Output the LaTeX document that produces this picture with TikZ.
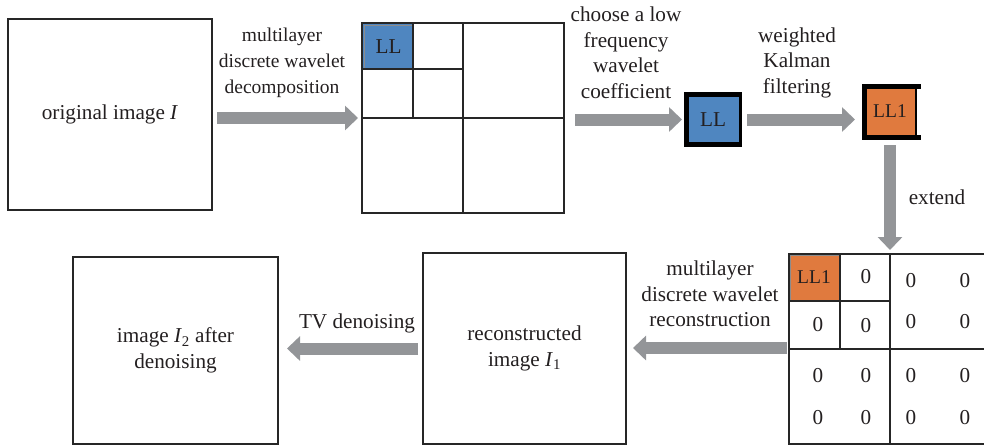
\documentclass[tikz,border=0pt]{standalone}
\usepackage{fontspec}
\setmainfont{Liberation Serif}
\usetikzlibrary{arrows.meta}
\definecolor{llblue}{HTML}{4F86C0}
\definecolor{llorange}{HTML}{E07A3E}
\definecolor{arrgray}{HTML}{939598}
\definecolor{txt}{HTML}{231F20}
\begin{document}
\begin{tikzpicture}[x=1pt,y=-1pt,
  every node/.style={font=\fontsize{21.2}{25.5}\selectfont, inner sep=0pt, outer sep=0pt, text=txt},
  frame/.style={draw=black!85, line width=1.2pt, align=center},
  gridline/.style={draw=black!85, line width=1.2pt},
  fat/.style={draw=arrgray, line width=12pt, -{Triangle[length=13pt,width=24pt]}},
  lbl/.style={align=center},
  small/.style={font=\fontsize{19.5}{26}\selectfont},
]
\useasboundingbox (0,0) rectangle (984,445);
\clip (0,0) rectangle (984,445);

% original image
\node[frame, minimum width=204pt, minimum height=191pt] (orig) at (110,114.5) {original image \textit{I}};

% decomposition grid
\fill[llblue] (363,24) rectangle (413,69);
\draw[black!45, line width=0.8pt] (364,25) rectangle (413,69);
\node[frame, minimum width=202pt, minimum height=190pt] (dec) at (463,118) {};
\draw[gridline] (dec.north) -- (dec.south);
\draw[gridline] (dec.west) -- (dec.east);
\draw[gridline] (413,23) -- (413,118);
\draw[gridline] (362,69) -- (463,69);
\node (ll0) at (388.5,47) {LL};

% LL box
\node[minimum width=58pt, minimum height=55pt] (llb) at (713,119.5) {};
\fill[black] (684,92) rectangle (742,147);
\fill[llblue] (689,97) rectangle (739,142);
\node at (llb.center) {LL};

% LL1 box
\node[minimum width=59pt, minimum height=56pt] (ll1) at (891.5,112) {};
\fill[black] (862,84) rectangle (921,89);
\fill[black] (862,135) rectangle (921,140);
\fill[black] (862,84) rectangle (867,140);
\fill[black] (914.5,84) rectangle (916.5,140);
\fill[llorange] (867,89) rectangle (914.5,135);
\node[small] at (890,111) {LL1};

% extended grid
\fill[llorange] (790,255) rectangle (840,301);
\draw[black!45, line width=0.8pt] (790,255) rectangle (840,301);
\node[frame, minimum width=202pt, minimum height=190pt] (ext) at (890,349) {};
\draw[gridline] (ext.north) -- (ext.south);
\draw[gridline] (ext.west) -- (ext.east);
\draw[gridline] (840,254) -- (840,349);
\draw[gridline] (789,301) -- (890,301);
\node[small] at (814,277) {LL1};
\foreach \x/\y in {866/277, 911/281, 965/281, 818/325, 866/326, 911/322, 965/322,
  818/376, 866/376, 911/376, 965/376, 818/418, 866/418, 911/418, 965/418}
  \node at (\x,\y) {0};

% reconstructed
\node[frame, minimum width=203pt, minimum height=191pt] (recon) at (524.5,348.5) {reconstructed\\image \textit{I}\textsubscript{1}};

% output
\node[frame, minimum width=205pt, minimum height=187pt] (out) at (175.5,350.5) {image \textit{I}\textsubscript{2} after\\denoising};

% arrows
\draw[fat] ([xshift=5pt]orig.east |- dec.west) -- ([xshift=-4pt]dec.west);
\draw[fat] ([xshift=11pt]dec.east |- llb.west) -- ([xshift=-2pt]llb.west);
\draw[fat] ([xshift=5pt]llb.east) -- ([xshift=-7pt]ll1.west |- llb.east);
\draw[fat] ([yshift=-5pt]ext.north |- ll1.south) -- ([yshift=4pt]ext.north);
\draw[fat] ([xshift=-2pt,yshift=1pt]ext.west) -- ([xshift=7pt,yshift=1pt]recon.east |- ext.west);
\draw[fat] ([xshift=-5pt]recon.west) -- ([xshift=9pt]out.east |- recon.west);

% labels
\node[lbl, small] (t1) at (282,63) {multilayer\\discrete wavelet\\decomposition};
\node[lbl] (t2) at (626,52.5) {choose a low\\frequency\\wavelet\\coefficient};
\node[lbl] (t3) at (797,62.5) {weighted\\Kalman\\filtering};
\node (t4) at (937,197) {extend};
\node[lbl] (t5) at (710,294) {multilayer\\discrete wavelet\\reconstruction};
\node (t6) at (357,323) {TV denoising};
\end{tikzpicture}
\end{document}
